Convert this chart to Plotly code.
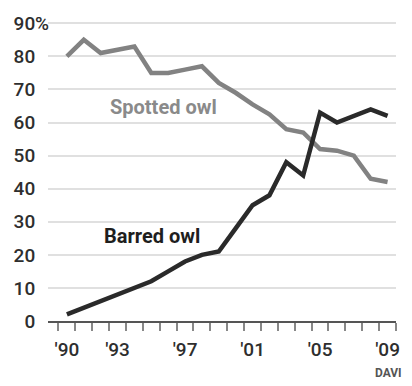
import plotly.graph_objects as go

years = list(range(1990, 2010))
spotted = [80, 85, 81, 82, 83, 75, 75, 76, 77, 72, 69, 65.5, 62.5, 58, 57, 52, 51.5, 50, 43, 42]
barred = [2, 4, 6, 8, 10, 12, 15, 18, 20, 21, 28, 35, 38, 48, 44, 63, 60, 62, 64, 62]

y_ticks = [0, 10, 20, 30, 40, 50, 60, 70, 80, 90]
y_ticktext = ["0", "10", "20", "30", "40", "50", "60", "70", "80", "90"]
x_ticks = [1990, 1993, 1997, 2001, 2005, 2009]
x_ticktext = ["'90", "'93", "'97", "'01", "'05", "'09"]

FONT = "Roboto"
W, H = 412, 386
L, R, T, B = 48, 16, 14, 64.5
PW, PH = W - L - R, H - T - B

tick_font = dict(family=FONT, size=19, color="#2e2e2e", weight=500)

fig = go.Figure()
fig.add_trace(go.Scatter(x=years, y=spotted, mode="lines",
                         line=dict(color="#828282", width=4.5), hoverinfo="skip"))
fig.add_trace(go.Scatter(x=years, y=barred, mode="lines",
                         line=dict(color="#2a2a2a", width=4.5), hoverinfo="skip"))

fig.update_layout(
    width=W, height=H,
    margin=dict(l=L, r=R, t=T, b=B),
    paper_bgcolor="white", plot_bgcolor="white",
    showlegend=False,
    font=dict(family=FONT, size=19, color="#2e2e2e"),
    xaxis=dict(
        range=[1988.88, 2009.5], showgrid=False, zeroline=False,
        showline=True, linecolor="#555555", linewidth=2,
        tickmode="array", tickvals=x_ticks, ticktext=x_ticktext,
        ticks="outside", ticklen=10, tickcolor="rgba(0,0,0,0)",
        tickfont=tick_font,
        minor=dict(tick0=1989.5, dtick=1, ticks="outside", ticklen=8,
                   tickwidth=2, tickcolor="#888888", showgrid=False),
    ),
    yaxis=dict(
        range=[0, 91], showgrid=True, gridcolor="#e0e0e0", gridwidth=2,
        zeroline=False, showline=False,
        tickmode="array", tickvals=y_ticks, ticktext=y_ticktext,
        ticks="outside", ticklen=8, tickcolor="rgba(0,0,0,0)",
        tickfont=tick_font,
    ),
)

fig.add_annotation(x=(37 - L) / PW, y=90, xref="paper", yref="y", text="%",
                   showarrow=False, xanchor="left", yanchor="middle",
                   xshift=-4, font=tick_font)
fig.add_annotation(x=1995.7, y=64.7, text="<b>Spotted owl</b>", showarrow=False,
                   xanchor="center", yanchor="middle",
                   font=dict(family=FONT, size=20, color="#8a8a8a"))
fig.add_annotation(x=1995.06, y=25.6, text="<b>Barred owl</b>", showarrow=False,
                   xanchor="center", yanchor="middle",
                   font=dict(family=FONT, size=20, color="#1e1e1e"))
fig.add_annotation(x=(373 - L) / PW, y=1 - (375 - T) / PH, xref="paper", yref="paper",
                   text="<b>DAVI</b>", showarrow=False, xanchor="left", yanchor="middle",
                   font=dict(family=FONT, size=12, color="#555555"))

fig.write_html("out.html")
